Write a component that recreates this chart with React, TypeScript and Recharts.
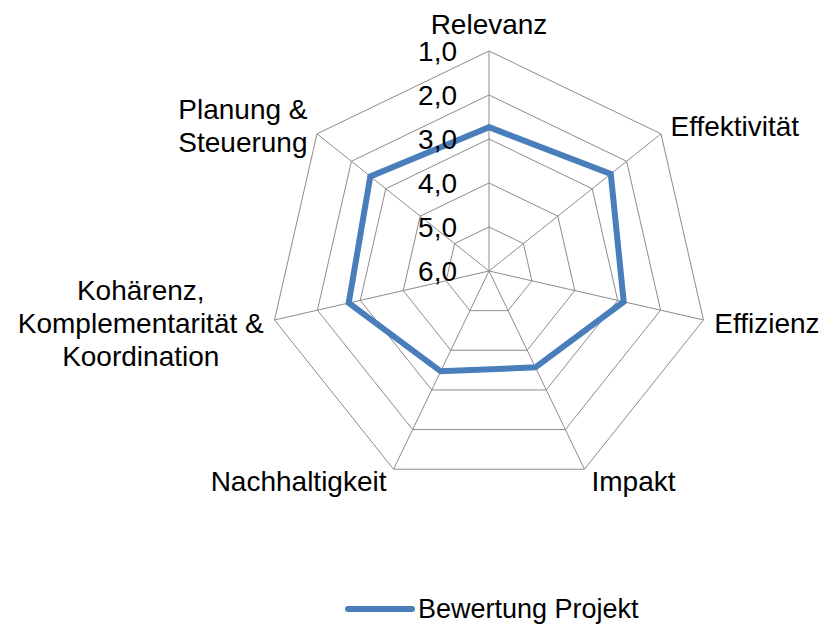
import {
  RadarChart,
  Radar,
  PolarGrid,
  PolarAngleAxis,
  PolarRadiusAxis,
  Legend,
} from "recharts";

const categories = [
  "Relevanz",
  "Effektivität",
  "Effizienz",
  "Impakt",
  "Nachhaltigkeit",
  "Kohärenz,\nKomplementarität &\nKoordination",
  "Planung &\nSteuerung",
];
const projectScores = [2.73, 2.46, 2.86, 3.57, 3.47, 2.73, 2.55];
const scaleDomain = [1, 6];
const seriesName = "Bewertung Projekt";

const data = categories.map((c, i) => ({ criterion: c, score: projectScores[i] }));

const W = 827;
const H = 633;
const CX = 489;
const CY = 271;
const R = 220;
const FONT = '"Liberation Sans", Arial, sans-serif';
const LABEL_SIZE = 28;
const LINE_H = 33;
const BLUE = "#4a7ebb";
const GRID = "#8c8c8c";

let ctx: CanvasRenderingContext2D | null = null;
function textWidth(s: string) {
  if (!ctx) ctx = document.createElement("canvas").getContext("2d");
  if (!ctx) return s.length * LABEL_SIZE * 0.5;
  ctx.font = `${LABEL_SIZE}px ${FONT}`;
  return ctx.measureText(s).width;
}

// category labels, placed around the outer polygon like excel does
function AngleTick(props: any) {
  const { x, y, payload } = props;
  const dx = x - CX;
  const dy = y - CY;
  const len = Math.hypot(dx, dy) || 1;
  const sin = dx / len;
  const cos = -dy / len;
  const vx = CX + sin * R;
  const vy = CY - cos * R;
  const lines = String(payload.value).split("\n");
  const gap = 4 + 7 * Math.abs(sin);
  const widest = Math.max(...lines.map(textWidth));
  let mx = vx;
  if (Math.abs(sin) > 0.1) mx = sin > 0 ? vx + gap + widest / 2 : vx - gap - widest / 2;
  const midY = vy - 13 * cos - (cos > 0.99 ? 14 : 0);
  return (
    <g>
      {lines.map((line, i) => (
        <text
          key={i}
          x={mx}
          y={midY + (i - (lines.length - 1) / 2) * LINE_H + LABEL_SIZE * 0.36}
          textAnchor="middle"
          fontFamily={FONT}
          fontSize={LABEL_SIZE}
          fill="#000"
        >
          {line}
        </text>
      ))}
    </g>
  );
}

function RadiusTick(props: any) {
  const { y, payload } = props;
  return (
    <text
      x={CX - 32}
      y={y + 10}
      textAnchor="end"
      fontFamily={FONT}
      fontSize={LABEL_SIZE}
      fill="#000"
    >
      {Number(payload.value).toFixed(1).replace(".", ",")}
    </text>
  );
}

function LegendContent() {
  return (
    <svg width={320} height={36}>
      <line x1={8} y1={15} x2={72} y2={15} stroke={BLUE} strokeWidth={6} strokeLinecap="round" />
      <text x={78} y={24} fontFamily={FONT} fontSize={27} fill="#000">
        {seriesName}
      </text>
    </svg>
  );
}

export default function App() {
  return (
    <div style={{ position: "absolute", left: 0, top: 0, width: W, height: H, background: "#fff" }}>
      <RadarChart width={W} height={H} data={data} cx={CX} cy={CY} outerRadius={R}>
        <PolarGrid gridType="polygon" stroke={GRID} strokeWidth={1} strokeOpacity={1} />
        <PolarAngleAxis
          dataKey="criterion"
          axisLine={false}
          tickLine={false}
          tick={<AngleTick />}
        />
        <PolarRadiusAxis
          angle={90}
          domain={scaleDomain}
          tickCount={6}
          reversed
          axisLine={false}
          tickLine={false}
          tick={<RadiusTick />}
        />
        <Radar
          name={seriesName}
          dataKey="score"
          stroke={BLUE}
          strokeWidth={6}
          fill="none"
          fillOpacity={0}
          dot={false}
          isAnimationActive={false}
        />
        <Legend
          content={<LegendContent />}
          wrapperStyle={{ position: "absolute", left: 340, top: 594, width: 320, height: 36 }}
        />
      </RadarChart>
    </div>
  );
}
